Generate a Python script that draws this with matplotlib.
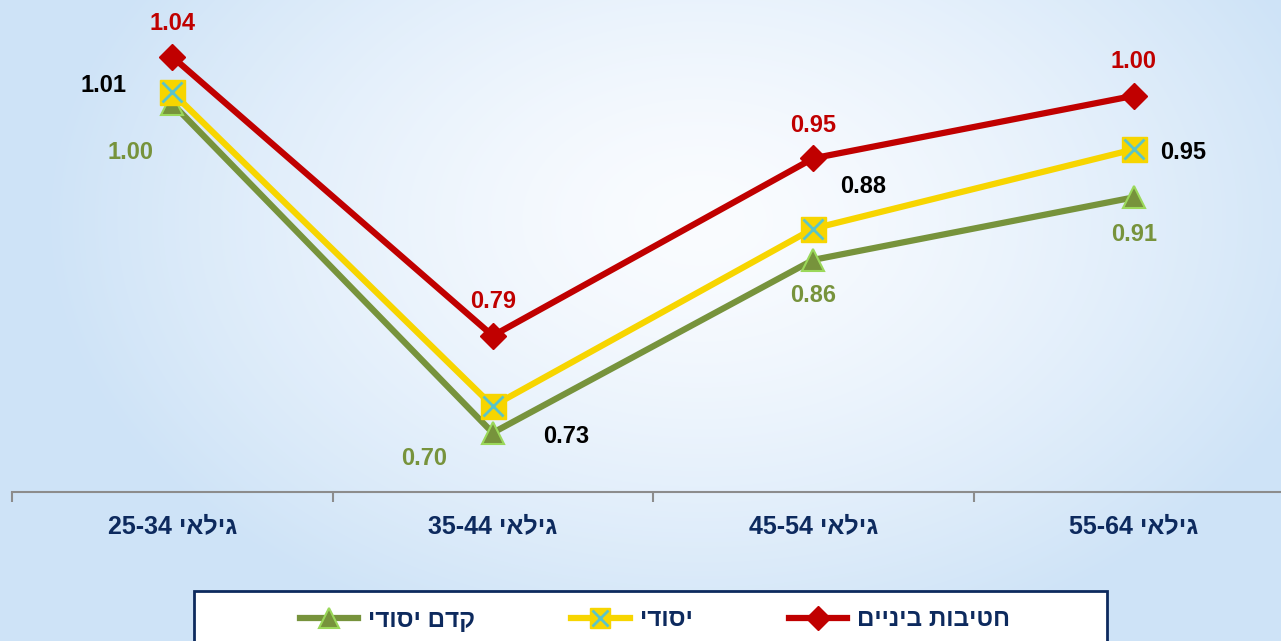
import matplotlib.pyplot as plt
import numpy as np
from matplotlib.lines import Line2D
from matplotlib.patches import Rectangle
from matplotlib.legend_handler import HandlerTuple

# Data
categories = ['גילאי 25-34', 'גילאי 35-44', 'גילאי 45-54', 'גילאי 55-64']
middle_school = [1.040, 0.790, 0.949, 1.005]   # חטיבות ביניים
elementary = [1.008, 0.727, 0.886, 0.957]      # יסודי
preschool = [0.998, 0.703, 0.858, 0.914]       # קדם יסודי

middle_labels = ['1.04', '0.79', '0.95', '1.00']
elem_labels = ['1.01', '0.73', '0.88', '0.95']
pre_labels = ['1.00', '0.70', '0.86', '0.91']

series_names = ['חטיבות ביניים', 'יסודי', 'קדם יסודי']


def vis(s):
    """Visual order for Hebrew text (no bidi support in matplotlib)."""
    words = s.split(' ')
    out = []
    for w in reversed(words):
        if any('\u0590' <= c <= '\u05ff' for c in w):
            out.append(w[::-1])
        else:
            out.append(w)
    return ' '.join(out)


RED = '#c00000'
YELLOW = '#f7d500'
GREEN = '#77933c'
TEAL = '#5bc4c8'
NAVY = '#0d2a5e'

plt.rcParams['font.family'] = ['Liberation Sans', 'DejaVu Sans']

W, H = 1281, 641
fig = plt.figure(figsize=(W / 100, H / 100), dpi=100)

# background gradient
bg = fig.add_axes([0, 0, 1, 1], zorder=-10)
yy, xx = np.mgrid[0:H, 0:W]
r = np.sqrt(((xx - 700) / 660.0) ** 2 + ((yy - 220) / 450.0) ** 2)
r = np.clip(r, 0, 1)
c_in = np.array([250, 252, 255]) / 255.0
c_out = np.array([206, 227, 247]) / 255.0
w = r[..., None] ** 1.4
img = c_in[None, None, :] * (1 - w) + c_out[None, None, :] * w
bg.imshow(img, aspect='auto', extent=[0, 1, 0, 1])
bg.axis('off')

ax = fig.add_axes([12 / W, 149 / H, 1282 / W, 492 / H])
ax.patch.set_alpha(0)
x = np.arange(len(categories))

ax.plot(x, preschool, color=GREEN, lw=4.5, marker='^', ms=16,
        mfc=GREEN, mec='#9bd85a', mew=1.5, zorder=3)
ax.plot(x, elementary, color=YELLOW, lw=4.5, marker='s', ms=18,
        mfc=YELLOW, mec=YELLOW, zorder=4)
ax.plot(x, elementary, ls='none', marker='x', ms=14, mec=TEAL, mew=2, zorder=5)
ax.plot(x, middle_school, color=RED, lw=4.5, marker='D', ms=13,
        mfc=RED, mec=RED, zorder=6)

ax.set_xlim(-0.5, 3.5)
ax.set_ylim(0.65, 0.65 + 492 / 1116)

# data labels
red_off = [(0, 33), (0, 34), (0, 33), (0, 34)]
elem_off = [(-69, 7), (73, -30), (50, 42), (49, -3)]
pre_off = [(-42, -49), (-69, -26), (0, -36), (0, -37)]
for i in range(len(categories)):
    ax.annotate(middle_labels[i], (x[i], middle_school[i]), xytext=red_off[i],
                textcoords='offset pixels', ha='center', va='center',
                fontsize=17, fontweight='bold', color=RED)
    ax.annotate(elem_labels[i], (x[i], elementary[i]), xytext=elem_off[i],
                textcoords='offset pixels', ha='center', va='center',
                fontsize=17, fontweight='bold', color='black')
    ax.annotate(pre_labels[i], (x[i], preschool[i]), xytext=pre_off[i],
                textcoords='offset pixels', ha='center', va='center',
                fontsize=17, fontweight='bold', color=GREEN)

# axes styling
for s in ['top', 'right', 'left']:
    ax.spines[s].set_visible(False)
ax.spines['bottom'].set_color('#8c8c8c')
ax.spines['bottom'].set_linewidth(1.5)
ax.set_yticks([])
ax.set_xticks(x)
ax.set_xticklabels([vis(c) for c in categories], fontsize=18,
                   fontweight='bold', color=NAVY)
ax.tick_params(axis='x', which='major', length=0, pad=16)
ax.set_xticks(np.arange(-0.5, 4, 1), minor=True)
ax.tick_params(axis='x', which='minor', length=7, width=1.5, color='#8c8c8c')

# legend box (drawn by hand so it can run off the bottom edge)
fig.patches.append(Rectangle((194 / W, -20 / H), (1107 - 194) / W, 70 / H,
                             transform=fig.transFigure, facecolor='white',
                             edgecolor=NAVY, linewidth=2, zorder=-1))

h_red = Line2D([], [], color=RED, lw=4.5, marker='D', ms=12, mfc=RED, mec=RED)
h_yel = Line2D([], [], color=YELLOW, lw=4.5, marker='s', ms=15, mfc=YELLOW, mec=YELLOW)
h_yx = Line2D([], [], ls='none', marker='x', ms=12, mec=TEAL, mew=2)
h_grn = Line2D([], [], color=GREEN, lw=4.5, marker='^', ms=14, mfc=GREEN,
               mec='#9bd85a', mew=1.5)
leg = fig.legend([h_grn, (h_yel, h_yx), h_red],
                 [vis(series_names[2]), vis(series_names[1]), vis(series_names[0])],
                 handler_map={tuple: HandlerTuple(ndivide=1)},
                 loc='center', bbox_to_anchor=(655 / W, 1 - 620 / H),
                 ncol=3, frameon=False, fontsize=17.5,
                 handlelength=2.4, columnspacing=3.95, handletextpad=0.42,
                 borderpad=0, borderaxespad=0)
for t in leg.get_texts():
    t.set_color(NAVY)
    t.set_fontweight('bold')

fig.savefig('out.png', dpi=100)
